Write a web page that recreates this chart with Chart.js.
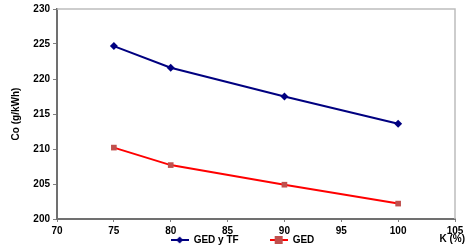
<!DOCTYPE html>
<html>
<head>
<meta charset="utf-8">
<script src="https://cdn.jsdelivr.net/npm/chart.js@4/dist/chart.umd.min.js"></script>
<style>
  html, body { margin: 0; padding: 0; background: #fff; }
  #wrap { width: 474px; height: 252px; }
</style>
</head>
<body>
<div id="wrap"><canvas id="grafico" width="474" height="252"></canvas></div>
<script>
// datos
const valoresK = [75, 80, 90, 100];
const serieGedTf = [224.7, 221.6, 217.5, 213.6];
const serieGed = [210.2, 207.7, 204.9, 202.2];
const ticksX = [70, 75, 80, 85, 90, 95, 100, 105];
const ticksY = [200, 205, 210, 215, 220, 225, 230];

const fuente = { family: 'Arial, "Liberation Sans", sans-serif', size: 10, weight: 'bold' };

// icono de leyenda: linea con marcador en medio
function iconoLeyenda(colorLinea, colorMarca, forma) {
    const c = document.createElement('canvas');
    c.width = 18; c.height = 10;
    const ctx = c.getContext('2d');
    ctx.strokeStyle = colorLinea;
    ctx.lineWidth = 2;
    ctx.beginPath(); ctx.moveTo(0, 5); ctx.lineTo(18, 5); ctx.stroke();
    ctx.fillStyle = colorMarca;
    if (forma === 'rombo') {
        ctx.beginPath();
        ctx.moveTo(9, 1.5); ctx.lineTo(12.5, 5); ctx.lineTo(9, 8.5); ctx.lineTo(5.5, 5);
        ctx.closePath(); ctx.fill();
    } else {
        ctx.fillRect(5, 1, 8, 8);
    }
    return c;
}

const iconos = [
    iconoLeyenda('#000080', '#000080', 'rombo'),
    iconoLeyenda('#ff0000', '#c0504d', 'cuadro')
];
// espacio extra detras de cada texto de la leyenda
const relleno = ['\u2003\u2003\u2003', ''];

// borde superior y derecho gris claro + titulo del eje X
const extras = {
    id: 'extras',
    afterLayout(chart) {
        // la leyenda original esta algo desplazada a la derecha
        chart.legend.left += 20;
    },
    beforeDatasetsDraw(chart) {
        const a = chart.chartArea;
        const ctx = chart.ctx;
        ctx.save();
        ctx.strokeStyle = '#bdbdbd';
        ctx.lineWidth = 1.5;
        ctx.beginPath();
        ctx.moveTo(a.left, a.top);
        ctx.lineTo(a.right, a.top);
        ctx.lineTo(a.right, a.bottom);
        ctx.stroke();
        ctx.restore();
    },
    afterDraw(chart) {
        const ctx = chart.ctx;
        ctx.save();
        ctx.font = 'bold 10px Arial, "Liberation Sans", sans-serif';
        ctx.fillStyle = '#000';
        ctx.textAlign = 'right';
        ctx.textBaseline = 'middle';
        ctx.fillText('K (%)', 465, 239);
        ctx.restore();
    }
};

Chart.defaults.font = fuente;
Chart.defaults.color = '#000';

new Chart(document.getElementById('grafico'), {
    type: 'line',
    data: {
        datasets: [
            {
                label: 'GED y TF',
                data: valoresK.map((k, i) => ({ x: k, y: serieGedTf[i] })),
                borderColor: '#000080',
                backgroundColor: '#000080',
                borderWidth: 2,
                pointStyle: 'rectRot',
                pointRadius: 4,
                pointBorderWidth: 0,
                tension: 0
            },
            {
                label: 'GED',
                data: valoresK.map((k, i) => ({ x: k, y: serieGed[i] })),
                borderColor: '#ff0000',
                backgroundColor: '#c0504d',
                borderWidth: 2,
                pointStyle: 'rect',
                pointRadius: 4,
                pointBorderWidth: 0,
                tension: 0
            }
        ]
    },
    options: {
        responsive: false,
        animation: false,
        layout: { padding: { left: 10, right: 19, top: 6, bottom: -3 } },
        plugins: {
            tooltip: { enabled: false },
            legend: {
                position: 'bottom',
                labels: {
                    usePointStyle: true,
                    pointStyleWidth: 18,
                    padding: 1,
                    boxHeight: 10,
                    generateLabels: (chart) => chart.data.datasets.map((ds, i) => ({
                        text: ds.label + relleno[i],
                        pointStyle: iconos[i],
                        datasetIndex: i,
                        fontColor: '#000',
                        lineWidth: 0,
                        strokeStyle: 'transparent',
                        fillStyle: 'transparent'
                    }))
                }
            }
        },
        scales: {
            x: {
                type: 'linear',
                min: 70,
                max: 105,
                afterBuildTicks: (s) => { s.ticks = ticksX.map(v => ({ value: v })); },
                afterFit: (s) => { s.height = 15; },
                grid: { display: true, drawOnChartArea: false, tickLength: 3, color: '#808080' },
                border: { color: '#707070', width: 2 },
                ticks: { padding: 3, maxRotation: 0 }
            },
            y: {
                min: 200,
                max: 230,
                afterBuildTicks: (s) => { s.ticks = ticksY.map(v => ({ value: v })); },
                afterFit: (s) => { s.width = 47; },
                grid: { display: true, drawOnChartArea: false, tickLength: 4, color: '#808080' },
                border: { color: '#707070', width: 2 },
                ticks: { padding: 3 },
                title: { display: true, text: 'Co (g/kWh)', padding: { top: 0, bottom: 6 } }
            }
        }
    },
    plugins: [extras]
});
</script>
</body>
</html>
